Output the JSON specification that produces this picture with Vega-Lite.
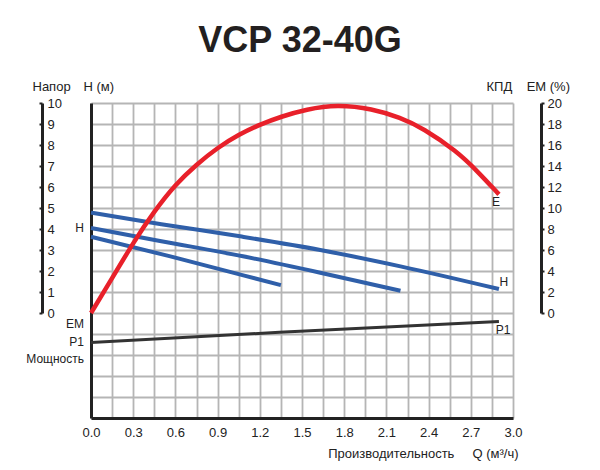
{
  "$schema": "https://vega.github.io/schema/vega-lite/v6.json",
  "width": 422,
  "height": 315,
  "autosize": {"type": "none"},
  "padding": {"left": 91, "top": 103, "right": 87, "bottom": 52},
  "background": "white",
  "config": {"font": "Liberation Sans", "view": {"stroke": null}},
  "title": {"text": "VCP 32-40G", "fontSize": 36, "fontWeight": "bold", "color": "#231f20", "anchor": "middle", "frame": "group", "offset": 20, "dx": -2},
  "datasets": {
    "em": [
      {"q": 0, "em": 0}, {"q": 0.15, "em": 3.3}, {"q": 0.3, "em": 6.7}, {"q": 0.45, "em": 9.7},
      {"q": 0.6, "em": 12.25}, {"q": 0.75, "em": 14.15}, {"q": 0.9, "em": 15.75}, {"q": 1.05, "em": 17.0},
      {"q": 1.2, "em": 17.95}, {"q": 1.35, "em": 18.7}, {"q": 1.53, "em": 19.4}, {"q": 1.75, "em": 19.85},
      {"q": 2.0, "em": 19.45}, {"q": 2.2, "em": 18.6}, {"q": 2.36, "em": 17.6}, {"q": 2.6, "em": 15.4},
      {"q": 2.74, "em": 13.6}, {"q": 2.9, "em": 11.3}
    ],
    "head": [
      {"curve": "max", "q": 0, "h": 4.78}, {"curve": "max", "q": 0.5, "h": 4.23}, {"curve": "max", "q": 1.06, "h": 3.65},
      {"curve": "max", "q": 1.63, "h": 3.0}, {"curve": "max", "q": 2.2, "h": 2.22}, {"curve": "max", "q": 2.9, "h": 1.14},
      {"curve": "mid", "q": 0, "h": 4.05}, {"curve": "mid", "q": 0.5, "h": 3.42}, {"curve": "mid", "q": 1.08, "h": 2.7},
      {"curve": "mid", "q": 1.63, "h": 1.92}, {"curve": "mid", "q": 2.2, "h": 1.06},
      {"curve": "min", "q": 0, "h": 3.63}, {"curve": "min", "q": 0.55, "h": 2.72}, {"curve": "min", "q": 1.09, "h": 1.78},
      {"curve": "min", "q": 1.35, "h": 1.33}
    ],
    "p1": [
      {"q": 0, "h": -1.4}, {"q": 1.34, "h": -0.92}, {"q": 2.9, "h": -0.4}
    ],
    "labelsLeft": [
      {"q": 0, "h": 4.05, "label": "H"},
      {"q": 0, "h": -0.51, "label": "EM"},
      {"q": 0, "h": -1.4, "label": "P1"},
      {"q": 0, "h": -2.19, "label": "Мощность"}
    ],
    "labelsRight": [
      {"q": 2.88, "h": 5.29, "label": "E"},
      {"q": 2.935, "h": 1.46, "label": "H"},
      {"q": 2.93, "h": -0.79, "label": "P1"}
    ]
  },
  "encoding": {
    "x": {
      "field": "q", "type": "quantitative",
      "scale": {"domain": [0, 3], "nice": false, "zero": false},
      "axis": {
        "values": [0, 0.15, 0.3, 0.45, 0.6, 0.75, 0.9, 1.05, 1.2, 1.35, 1.5, 1.65, 1.8, 1.95, 2.1, 2.25, 2.4, 2.55, 2.7, 2.85, 3],
        "grid": true, "gridColor": "#b5b5b5", "gridWidth": 1.8,
        "ticks": false, "domainColor": "#222222", "domainWidth": 3,
        "labelExpr": "round(datum.value / 0.15) % 2 == 0 ? format(datum.value, '.1f') : ''",
        "labelFontSize": 13, "labelColor": "#222222", "labelPadding": 8, "labelFlush": false, "labelOverlap": false,
        "title": "Производительность\u00a0\u00a0\u00a0\u00a0\u00a0Q (м³/ч)", "titleFontSize": 13, "titleFontWeight": "normal", "titleColor": "#222222",
        "titleX": 427, "titleY": 39, "titleAlign": "right", "titleBaseline": "alphabetic", "titleAnchor": null
      }
    }
  },
  "layer": [
    {
      "encoding": {
        "y": {
          "field": "h", "type": "quantitative",
          "scale": {"domain": [-5, 10], "nice": false, "zero": false},
          "axis": {
            "orient": "left",
            "values": [-5, -4, -3, -2, -1, 0, 1, 2, 3, 4, 5, 6, 7, 8, 9, 10],
            "grid": true, "gridColor": "#b5b5b5", "gridWidth": 1.8,
            "labels": false, "ticks": false, "domainColor": "#222222", "domainWidth": 3,
            "title": "H (м)", "titleAngle": 0, "titleAlign": "left", "titleBaseline": "alphabetic",
            "titleX": -8, "titleY": -13, "titleFontSize": 13, "titleFontWeight": "normal", "titleColor": "#222222"
          }
        }
      },
      "layer": [
        {"data": {"name": "p1"}, "mark": {"type": "line", "color": "#333333", "strokeWidth": 3}},
        {"data": {"name": "labelsLeft"}, "mark": {"type": "text", "align": "right", "baseline": "middle", "dx": -7, "fontSize": 12, "color": "#222222"}, "encoding": {"text": {"field": "label"}}},
        {"data": {"name": "labelsRight"}, "mark": {"type": "text", "align": "center", "baseline": "middle", "fontSize": 12, "color": "#222222"}, "encoding": {"text": {"field": "label"}}}
      ]
    },
    {
      "data": {"name": "head"},
      "mark": {"type": "line", "color": "#2f5fa9", "strokeWidth": 4, "interpolate": "monotone"},
      "encoding": {
        "detail": {"field": "curve"},
        "y": {
          "field": "h", "type": "quantitative",
          "scale": {"domain": [0, 10], "range": [210, 0], "nice": false, "zero": false},
          "axis": {
            "orient": "left", "offset": 49,
            "values": [0, 1, 2, 3, 4, 5, 6, 7, 8, 9, 10],
            "grid": false, "domainColor": "#222222", "domainWidth": 3,
            "ticks": true, "tickSize": 3, "tickWidth": 2, "tickColor": "#222222",
            "labelAlign": "left", "labelBaseline": "middle", "labelPadding": -8, "labelFontSize": 13, "labelColor": "#222222",
            "labelFlush": false, "labelOverlap": false,
            "title": "Напор", "titleAngle": 0, "titleAlign": "left", "titleBaseline": "alphabetic",
            "titleX": -10, "titleY": -13, "titleFontSize": 13, "titleFontWeight": "normal", "titleColor": "#222222"
          }
        }
      }
    },
    {
      "data": {"name": "em"},
      "mark": {"type": "line", "color": "#e8202a", "strokeWidth": 4.5, "interpolate": "basis"},
      "encoding": {
        "y": {
          "field": "em", "type": "quantitative",
          "scale": {"domain": [0, 20], "range": [210, 0], "nice": false, "zero": false},
          "axis": {
            "orient": "right", "offset": 28,
            "values": [0, 2, 4, 6, 8, 10, 12, 14, 16, 18, 20],
            "grid": false, "domainColor": "#222222", "domainWidth": 3,
            "ticks": true, "tickSize": 3, "tickWidth": 2, "tickColor": "#222222",
            "labelAlign": "left", "labelBaseline": "middle", "labelPadding": 3, "labelFontSize": 13, "labelColor": "#222222",
            "labelFlush": false, "labelOverlap": false,
            "title": "КПД\u00a0\u00a0\u00a0\u00a0EM (%)", "titleAngle": 0, "titleAlign": "left", "titleBaseline": "alphabetic",
            "titleX": -55, "titleY": -13, "titleFontSize": 13, "titleFontWeight": "normal", "titleColor": "#222222"
          }
        }
      }
    }
  ],
  "resolve": {"scale": {"y": "independent"}, "axis": {"y": "independent"}}
}
